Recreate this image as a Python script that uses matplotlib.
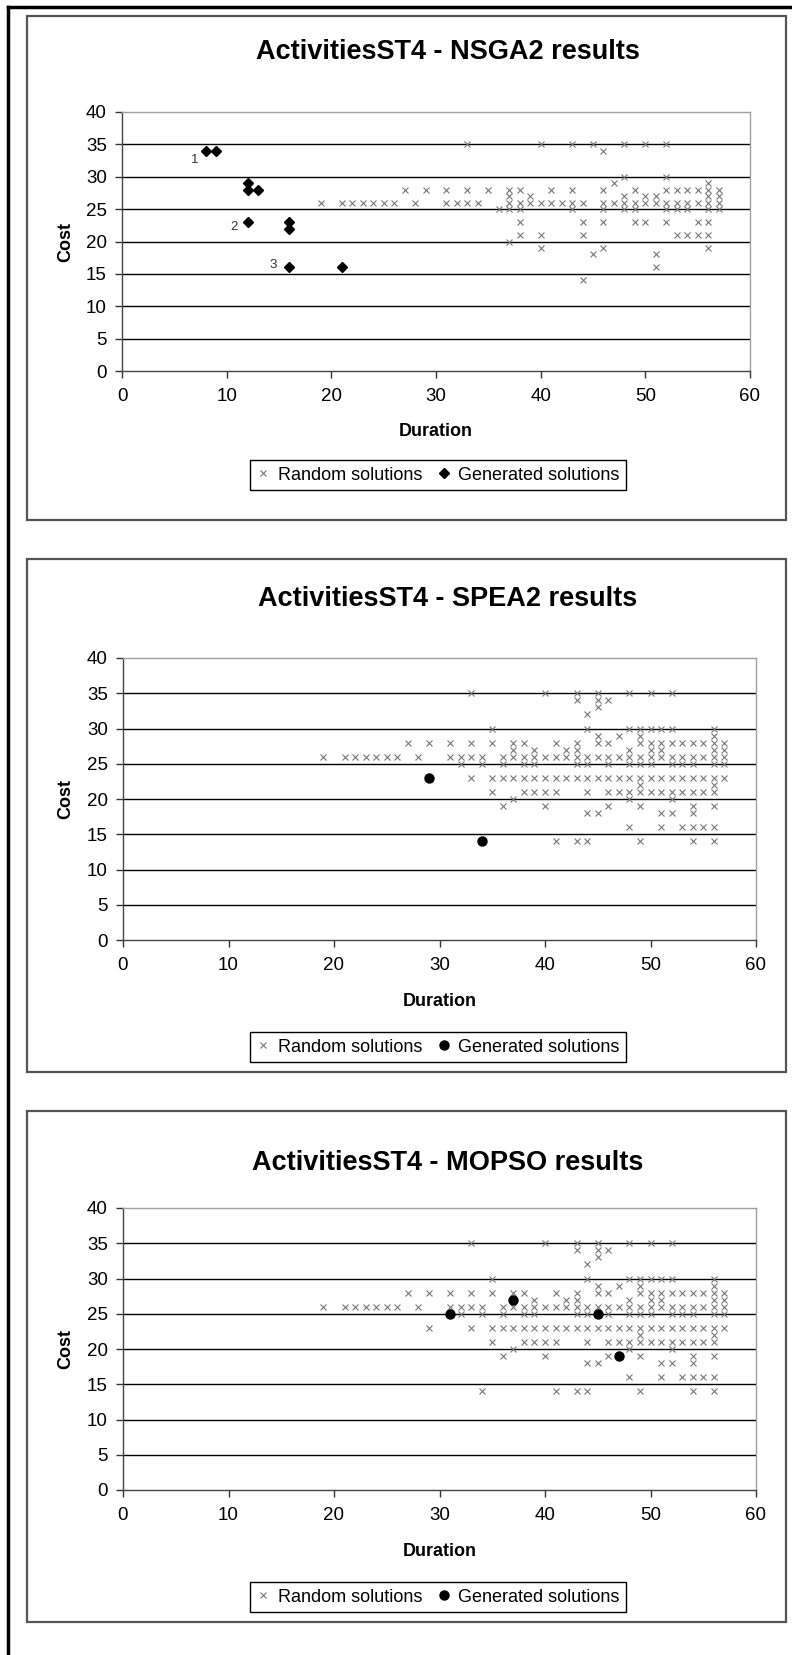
import matplotlib.pyplot as plt
from matplotlib.lines import Line2D
from matplotlib.patches import Rectangle

plt.rcParams['font.family'] = ['Liberation Sans', 'DejaVu Sans']

W, H = 792, 1655

# NSGA2 panel - random solutions
nsga_rand_x = [33, 40, 43, 45, 48, 50, 52,
               46,
               48, 52,
               47, 56,
               27, 29, 31, 33, 35, 37, 38, 41, 43, 46, 49, 52, 53, 54, 55, 56, 57,
               37, 39, 48, 50, 51, 56, 57,
               19, 21, 22, 23, 24, 25, 26, 28, 31, 32, 33, 34, 37, 38, 39, 40, 41, 42,
               43, 44, 46, 47, 48, 49, 50, 51, 52, 53, 54, 55, 56, 57,
               36, 37, 38, 43, 46, 48, 49, 52, 53, 54, 56, 57,
               38, 44, 46, 49, 50, 52, 55, 56,
               38, 40, 44, 53, 54, 55, 56,
               37,
               40, 46, 56,
               45, 51,
               51,
               44]
nsga_rand_y = [35, 35, 35, 35, 35, 35, 35,
               34,
               30, 30,
               29, 29,
               28, 28, 28, 28, 28, 28, 28, 28, 28, 28, 28, 28, 28, 28, 28, 28, 28,
               27, 27, 27, 27, 27, 27, 27,
               26, 26, 26, 26, 26, 26, 26, 26, 26, 26, 26, 26, 26, 26, 26, 26, 26, 26,
               26, 26, 26, 26, 26, 26, 26, 26, 26, 26, 26, 26, 26, 26,
               25, 25, 25, 25, 25, 25, 25, 25, 25, 25, 25, 25,
               23, 23, 23, 23, 23, 23, 23, 23,
               21, 21, 21, 21, 21, 21, 21,
               20,
               19, 19, 19,
               18, 18,
               16,
               14]
nsga_gen_x = [8, 9, 12, 12, 13, 12, 16, 16, 16, 21]
nsga_gen_y = [34, 34, 29, 28, 28, 23, 23, 22, 16, 16]
nsga_labels = ["1", "2", "3"]
nsga_label_x = [7.3, 11.1, 14.8]
nsga_label_y = [32.6, 22.2, 16.4]

# SPEA2 / MOPSO panels - random solutions (same set)
rand_x = [33, 40, 43, 45, 48, 50, 52,
          43, 45, 46,
          45,
          44,
          35, 44, 48, 49, 50, 51, 52, 56,
          45, 47, 49, 56,
          27, 29, 31, 33, 35, 37, 38, 41, 43, 45, 46, 49, 50, 51, 52, 53, 54, 55, 56, 57,
          37, 39, 42, 43, 48, 50, 51, 56, 57,
          19, 21, 22, 23, 24, 25, 26, 28, 31, 32, 33, 34, 36, 37, 38, 39, 40, 41, 42,
          43, 44, 45, 46, 47, 48, 49, 50, 51, 52, 53, 54, 55, 56, 57,
          32, 34, 36, 38, 39, 43, 44, 46, 48, 49, 50, 52, 53, 54, 56, 57,
          29, 33, 35, 36, 37, 38, 39, 40, 41, 42, 43, 44, 45, 46, 47, 48, 49, 50, 51,
          52, 53, 54, 55, 56, 57,
          49, 56,
          35, 38, 39, 40, 41, 44, 46, 47, 48, 49, 50, 51, 52, 53, 54, 55, 56,
          37, 48, 52,
          36, 40, 46, 49, 54, 56,
          44, 45, 51, 52, 54,
          48, 51, 53, 54, 55, 56,
          34, 41, 43, 44, 49, 54, 56]
rand_y = [35, 35, 35, 35, 35, 35, 35,
          34, 34, 34,
          33,
          32,
          30, 30, 30, 30, 30, 30, 30, 30,
          29, 29, 29, 29,
          28, 28, 28, 28, 28, 28, 28, 28, 28, 28, 28, 28, 28, 28, 28, 28, 28, 28, 28, 28,
          27, 27, 27, 27, 27, 27, 27, 27, 27,
          26, 26, 26, 26, 26, 26, 26, 26, 26, 26, 26, 26, 26, 26, 26, 26, 26, 26, 26,
          26, 26, 26, 26, 26, 26, 26, 26, 26, 26, 26, 26, 26, 26, 26,
          25, 25, 25, 25, 25, 25, 25, 25, 25, 25, 25, 25, 25, 25, 25, 25,
          23, 23, 23, 23, 23, 23, 23, 23, 23, 23, 23, 23, 23, 23, 23, 23, 23, 23, 23,
          23, 23, 23, 23, 23, 23,
          22, 22,
          21, 21, 21, 21, 21, 21, 21, 21, 21, 21, 21, 21, 21, 21, 21, 21, 21,
          20, 20, 20,
          19, 19, 19, 19, 19, 19,
          18, 18, 18, 18, 18,
          16, 16, 16, 16, 16, 16,
          14, 14, 14, 14, 14, 14, 14]

spea_gen_x = [29, 34]
spea_gen_y = [23, 14]
mopso_gen_x = [31, 37, 45, 47]
mopso_gen_y = [25, 27, 25, 19]

titles = ["ActivitiesST4 - NSGA2 results",
          "ActivitiesST4 - SPEA2 results",
          "ActivitiesST4 - MOPSO results"]
x_ticks = [0, 10, 20, 30, 40, 50, 60]
y_ticks = [0, 5, 10, 15, 20, 25, 30, 35, 40]
legend_labels = ["Random solutions", "Generated solutions"]


def fx(px):
    return px / W


def fy(px):
    return 1 - px / H


fig = plt.figure(figsize=(W / 100, H / 100), dpi=100)

# sheet edges
fig.add_artist(Line2D([fx(8), fx(792)], [fy(7), fy(7)], color="black", lw=2.5))
fig.add_artist(Line2D([fx(8), fx(8)], [fy(7), fy(1655)], color="black", lw=2.5))

# (box top, box bottom, plot left, plot right, plot top, plot bottom, title y, legend y)
layout = [
    (16, 520, 122, 750, 112, 371, 52, 475),
    (559, 1072, 123, 756, 658, 940, 599, 1047),
    (1111, 1622, 123, 756, 1208, 1490, 1163, 1597),
]
gen_sets = [(nsga_gen_x, nsga_gen_y, "D", 5.0),
            (spea_gen_x, spea_gen_y, "o", 6.5),
            (mopso_gen_x, mopso_gen_y, "o", 6.5)]
rand_sets = [(nsga_rand_x, nsga_rand_y), (rand_x, rand_y), (rand_x, rand_y)]

for i in range(3):
    bt, bb, pl, pr, pt, pb, ty, ly = layout[i]
    fig.add_artist(Rectangle((fx(27), fy(bb)), fx(786) - fx(27), fy(bt) - fy(bb),
                             transform=fig.transFigure, fill=False,
                             edgecolor="#555555", lw=1.6))
    ax = fig.add_axes([fx(pl), fy(pb), fx(pr) - fx(pl), fy(pt) - fy(pb)])
    ax.set_xlim(0, 60)
    ax.set_ylim(0, 40)
    ax.set_xticks(x_ticks)
    ax.set_yticks(y_ticks)
    ax.tick_params(direction="out", length=5, width=1, colors="#333333",
                   labelsize=13.5, labelcolor="black")
    ax.tick_params(axis="x", pad=7)
    ax.tick_params(axis="y", pad=6)
    for y in y_ticks[1:-1]:
        ax.axhline(y, color="black", lw=1.0, zorder=1)
    for s in ["top", "right"]:
        ax.spines[s].set_color("#a0a0a0")
        ax.spines[s].set_linewidth(1.0)
    for s in ["left", "bottom"]:
        ax.spines[s].set_color("#444444")
        ax.spines[s].set_linewidth(1.0)

    rx, ry = rand_sets[i]
    gx, gy, gm, gs = gen_sets[i]
    ax.plot(rx, ry, linestyle="none", marker="x", ms=4.0, mew=0.8,
            color="#777777", zorder=3, label=legend_labels[0])
    ax.plot(gx, gy, linestyle="none", marker=gm, ms=gs, color="black",
            zorder=4, label=legend_labels[1])
    if i == 0:
        for t, lx, lyv in zip(nsga_labels, nsga_label_x, nsga_label_y):
            ax.text(lx, lyv, t, fontsize=9.5, color="#333333", ha="right", va="center")

    fig.text(fx(448), fy(ty), titles[i], ha="center", va="center",
             fontsize=19.5, fontweight="bold")
    fig.text(fx(66), fy((pt + pb) / 2), "Cost", ha="center", va="center",
             rotation=90, fontsize=13, fontweight="bold")
    fig.text(fx((pl + pr) / 2), fy(pb + 61), "Duration", ha="center", va="center",
             fontsize=13, fontweight="bold")
    leg = ax.legend(loc="center", bbox_to_anchor=(fx(438), fy(ly)),
                    bbox_transform=fig.transFigure, ncol=2, fontsize=13,
                    frameon=True, fancybox=False, framealpha=1, edgecolor="black",
                    handlelength=0.8, handletextpad=0.4, columnspacing=0.8,
                    borderpad=0.35, borderaxespad=0)
    leg.get_frame().set_linewidth(1.0)

fig.savefig("out.png", dpi=100)
